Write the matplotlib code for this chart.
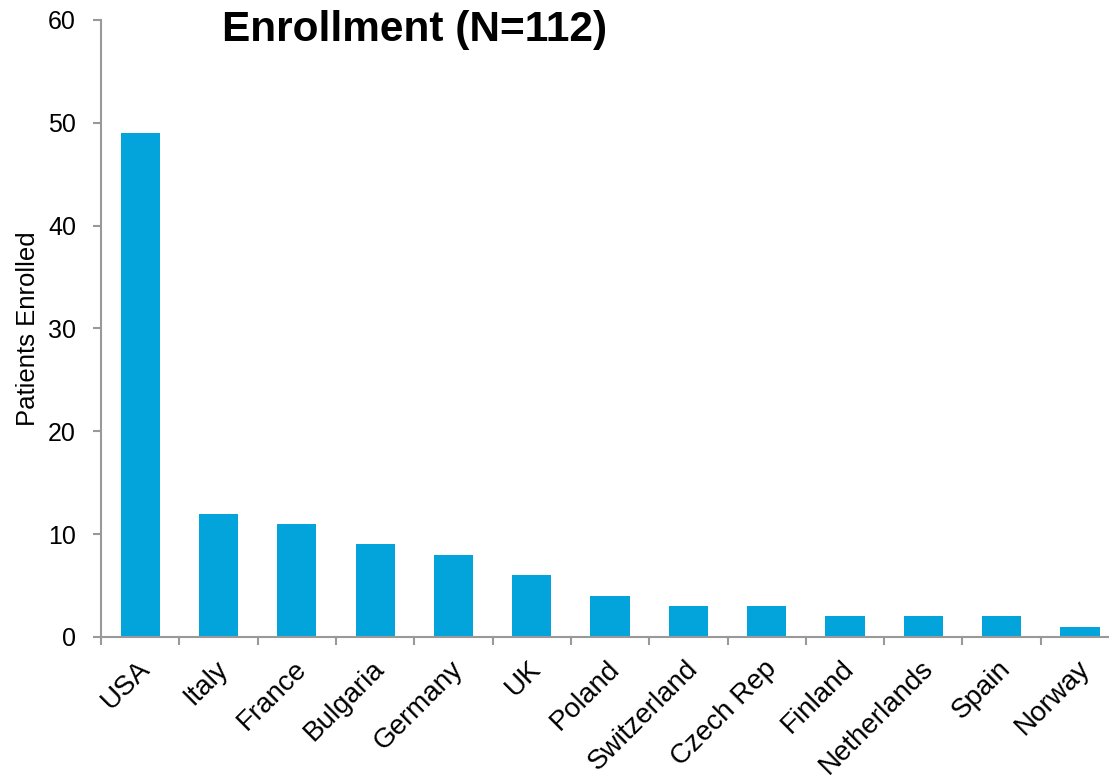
import matplotlib.pyplot as plt
from matplotlib.ticker import FixedLocator
from matplotlib.transforms import ScaledTranslation

countries = ['USA', 'Italy', 'France', 'Bulgaria', 'Germany', 'UK', 'Poland',
             'Switzerland', 'Czech Rep', 'Finland', 'Netherlands', 'Spain', 'Norway']
patients = [49, 12, 11, 9, 8, 6, 4, 3, 3, 2, 2, 2, 1]
y_ticks = [0, 10, 20, 30, 40, 50, 60]

plt.rcParams['font.family'] = ['Liberation Sans', 'DejaVu Sans']

fig = plt.figure(figsize=(11.09, 7.83), dpi=100)
ax = fig.add_axes([0.0911, 0.1865, 0.918, 0.788])

x = list(range(len(countries)))
ax.bar(x, patients, width=0.5, color='#02A4DB')

ax.set_xlim(-0.5, len(countries) - 0.5)
ax.set_ylim(0, 60)
ax.set_yticks(y_ticks)
ax.set_xticks(x)
ax.set_xticklabels(countries, rotation=45, ha='right', va='center',
                   rotation_mode='anchor', fontsize=20)
ax.xaxis.set_minor_locator(FixedLocator([i - 0.5 for i in range(len(countries) + 1)]))
ax.tick_params(axis='x', which='major', length=0, pad=20)
ax.tick_params(axis='x', which='minor', length=6, width=1.5, color='#999999', direction='out')
ax.tick_params(axis='y', length=6, width=1.5, color='#999999', labelsize=18, pad=12)

# nudge rotated labels a little to the right
shift = ScaledTranslation(4 / 72, 0, fig.dpi_scale_trans)
for lbl in ax.get_xticklabels():
    lbl.set_transform(lbl.get_transform() + shift)

for side in ['top', 'right']:
    ax.spines[side].set_visible(False)
for side in ['left', 'bottom']:
    ax.spines[side].set_color('#999999')
    ax.spines[side].set_linewidth(1.5)

ax.set_ylabel('Patients Enrolled', fontsize=18.5, labelpad=6)
fig.text(0.374, 0.962, 'Enrollment (N=112)', fontsize=30.5, fontweight='bold',
         ha='center', va='center')

fig.savefig('out.png', dpi=100)
